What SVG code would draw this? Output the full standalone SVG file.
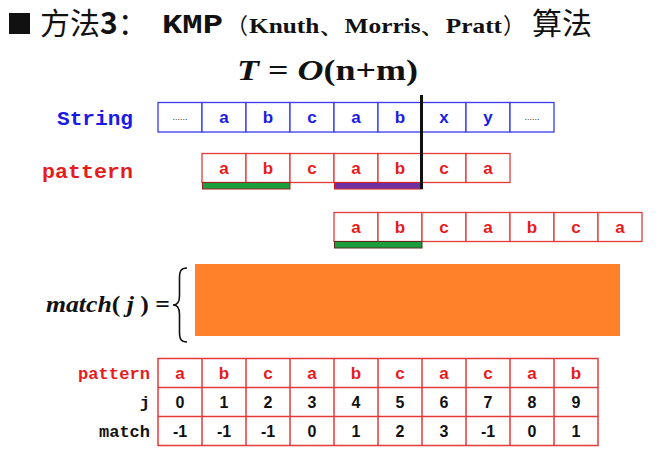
<svg xmlns="http://www.w3.org/2000/svg" width="669" height="451" viewBox="0 0 669 451">
<style>
.bc{fill:#fff;stroke:#3a3aee;stroke-width:1.3}
.rc{fill:#fff;stroke:#e63a3a;stroke-width:1.3}
.bt{font-family:"Liberation Sans",Arial,sans-serif;font-weight:bold;font-size:17px;fill:#1a1ae6;text-anchor:middle}
.rt{font-family:"Liberation Sans",Arial,sans-serif;font-weight:bold;font-size:17px;fill:#e61c1c;text-anchor:middle}
.kt{font-family:"Liberation Sans",Arial,sans-serif;font-weight:bold;font-size:16px;fill:#111;text-anchor:middle}
.mono{font-family:"Liberation Mono","Courier New",monospace;font-weight:bold}
.serif{font-family:"Liberation Serif","Times New Roman",serif;font-weight:bold}
.cjk{font-family:"Noto Sans CJK SC","Noto Sans",sans-serif}
</style>
<rect width="669" height="451" fill="#fff"/>
<g id="title">
<rect x="9" y="13" width="21" height="21" fill="#111"/>
<text x="40" y="34" class="cjk" font-size="30" fill="#111">方法<tspan font-weight="bold">3</tspan>：</text>
<text x="162" y="33" class="mono" font-size="28" fill="#111" textLength="61" lengthAdjust="spacingAndGlyphs">KMP</text>
<text x="226" y="33" class="cjk" font-size="22" fill="#111">（</text>
<text x="249" y="33" class="serif" font-size="21" fill="#111" textLength="253" lengthAdjust="spacingAndGlyphs">Knuth、Morris、Pratt</text>
<text x="503" y="33" class="cjk" font-size="22" fill="#111">）</text>
<text x="532" y="34" class="cjk" font-size="30" fill="#111">算法</text>
</g>
<g id="complexity">
<text x="237" y="80" class="serif" font-size="29" fill="#111" textLength="181" lengthAdjust="spacingAndGlyphs"><tspan font-style="italic">T</tspan> = <tspan font-style="italic">O</tspan>(n+m)</text>
</g>
<g id="string-row">
<text x="133" y="125" class="mono" font-size="20" fill="#1a1ae6" text-anchor="end" textLength="76" lengthAdjust="spacingAndGlyphs">String</text>
<rect class="bc" x="158" y="102.5" width="44" height="29.5"/>
<rect class="bc" x="202" y="102.5" width="44" height="29.5"/>
<rect class="bc" x="246" y="102.5" width="44" height="29.5"/>
<rect class="bc" x="290" y="102.5" width="44" height="29.5"/>
<rect class="bc" x="334" y="102.5" width="44" height="29.5"/>
<rect class="bc" x="378" y="102.5" width="44" height="29.5"/>
<rect class="bc" x="422" y="102.5" width="44" height="29.5"/>
<rect class="bc" x="466" y="102.5" width="44" height="29.5"/>
<rect class="bc" x="510" y="102.5" width="44" height="29.5"/>
<text x="180" y="120" font-family="Liberation Sans,sans-serif" font-size="9" fill="#333" text-anchor="middle">......</text>
<text x="224" y="123" class="bt">a</text>
<text x="268" y="123" class="bt">b</text>
<text x="312" y="123" class="bt">c</text>
<text x="356" y="123" class="bt">a</text>
<text x="400" y="123" class="bt">b</text>
<text x="444" y="123" class="bt">x</text>
<text x="488" y="123" class="bt">y</text>
<text x="532" y="120" font-family="Liberation Sans,sans-serif" font-size="9" fill="#333" text-anchor="middle">......</text>
</g>
<g id="pattern-row">
<text x="133" y="178" class="mono" font-size="21" fill="#e61c1c" text-anchor="end" textLength="91" lengthAdjust="spacingAndGlyphs">pattern</text>
<rect class="rc" x="202" y="153.5" width="44" height="29"/>
<rect class="rc" x="246" y="153.5" width="44" height="29"/>
<rect class="rc" x="290" y="153.5" width="44" height="29"/>
<rect class="rc" x="334" y="153.5" width="44" height="29"/>
<rect class="rc" x="378" y="153.5" width="44" height="29"/>
<rect class="rc" x="422" y="153.5" width="44" height="29"/>
<rect class="rc" x="466" y="153.5" width="44" height="29"/>
<text x="224" y="174" class="rt">a</text>
<text x="268" y="174" class="rt">b</text>
<text x="312" y="174" class="rt">c</text>
<text x="356" y="174" class="rt">a</text>
<text x="400" y="174" class="rt">b</text>
<text x="444" y="174" class="rt">c</text>
<text x="488" y="174" class="rt">a</text>
<rect x="202.5" y="182.5" width="87.5" height="6.5" fill="#1a9e3c" stroke="#a02020" stroke-width="1"/>
<rect x="334.5" y="182.5" width="87.5" height="6.5" fill="#7030a0" stroke="#d02020" stroke-width="1"/>
</g>
<g id="shifted-row">
<rect class="rc" x="334" y="212.5" width="44" height="29"/>
<rect class="rc" x="378" y="212.5" width="44" height="29"/>
<rect class="rc" x="422" y="212.5" width="44" height="29"/>
<rect class="rc" x="466" y="212.5" width="44" height="29"/>
<rect class="rc" x="510" y="212.5" width="44" height="29"/>
<rect class="rc" x="554" y="212.5" width="44" height="29"/>
<rect class="rc" x="598" y="212.5" width="44" height="29"/>
<text x="356" y="233" class="rt">a</text>
<text x="400" y="233" class="rt">b</text>
<text x="444" y="233" class="rt">c</text>
<text x="488" y="233" class="rt">a</text>
<text x="532" y="233" class="rt">b</text>
<text x="576" y="233" class="rt">c</text>
<text x="620" y="233" class="rt">a</text>
<rect x="334.5" y="241.5" width="87.5" height="6.5" fill="#1a9e3c" stroke="#5a2a20" stroke-width="1"/>
</g>
<g id="connectors">
<line x1="421.5" y1="95" x2="421.5" y2="189" stroke="#111" stroke-width="3"/>
</g>
<g id="match-def">
<text x="46" y="312" class="serif" font-size="23" fill="#111" textLength="124" lengthAdjust="spacingAndGlyphs"><tspan font-style="italic">match</tspan>( <tspan font-style="italic">j</tspan> ) =</text>
<path d="M187,268 C181,268 179.5,271 179.5,278 L179.5,296 C179.5,302 178,305 173,305 C178,305 179.5,308 179.5,314 L179.5,332 C179.5,339 181,342 187,342" fill="none" stroke="#111" stroke-width="1.6"/>
<rect x="195" y="264" width="425" height="72" fill="#ff822a"/>
</g>
<g id="table">
<text x="150" y="379" class="mono" font-size="17" fill="#e61c1c" text-anchor="end" textLength="72" lengthAdjust="spacingAndGlyphs">pattern</text>
<text x="150" y="408" class="mono" font-size="17" fill="#111" text-anchor="end">j</text>
<text x="150" y="437" class="mono" font-size="17" fill="#111" text-anchor="end" textLength="51" lengthAdjust="spacingAndGlyphs">match</text>
<rect x="158" y="358.5" width="440" height="87" fill="#fff" stroke="#e63a3a" stroke-width="1.5"/>
<path d="M158,387.5 H598 M158,416.5 H598 M202,358.5 V445.5 M246,358.5 V445.5 M290,358.5 V445.5 M334,358.5 V445.5 M378,358.5 V445.5 M422,358.5 V445.5 M466,358.5 V445.5 M510,358.5 V445.5 M554,358.5 V445.5" stroke="#e63a3a" stroke-width="1.5" fill="none"/>
<text x="180" y="379" class="rt" font-size="16">a</text>
<text x="224" y="379" class="rt" font-size="16">b</text>
<text x="268" y="379" class="rt" font-size="16">c</text>
<text x="312" y="379" class="rt" font-size="16">a</text>
<text x="356" y="379" class="rt" font-size="16">b</text>
<text x="400" y="379" class="rt" font-size="16">c</text>
<text x="444" y="379" class="rt" font-size="16">a</text>
<text x="488" y="379" class="rt" font-size="16">c</text>
<text x="532" y="379" class="rt" font-size="16">a</text>
<text x="576" y="379" class="rt" font-size="16">b</text>
<text x="180" y="408" class="kt">0</text>
<text x="224" y="408" class="kt">1</text>
<text x="268" y="408" class="kt">2</text>
<text x="312" y="408" class="kt">3</text>
<text x="356" y="408" class="kt">4</text>
<text x="400" y="408" class="kt">5</text>
<text x="444" y="408" class="kt">6</text>
<text x="488" y="408" class="kt">7</text>
<text x="532" y="408" class="kt">8</text>
<text x="576" y="408" class="kt">9</text>
<text x="180" y="437" class="kt">-1</text>
<text x="224" y="437" class="kt">-1</text>
<text x="268" y="437" class="kt">-1</text>
<text x="312" y="437" class="kt">0</text>
<text x="356" y="437" class="kt">1</text>
<text x="400" y="437" class="kt">2</text>
<text x="444" y="437" class="kt">3</text>
<text x="488" y="437" class="kt">-1</text>
<text x="532" y="437" class="kt">0</text>
<text x="576" y="437" class="kt">1</text>
</g>
</svg>
